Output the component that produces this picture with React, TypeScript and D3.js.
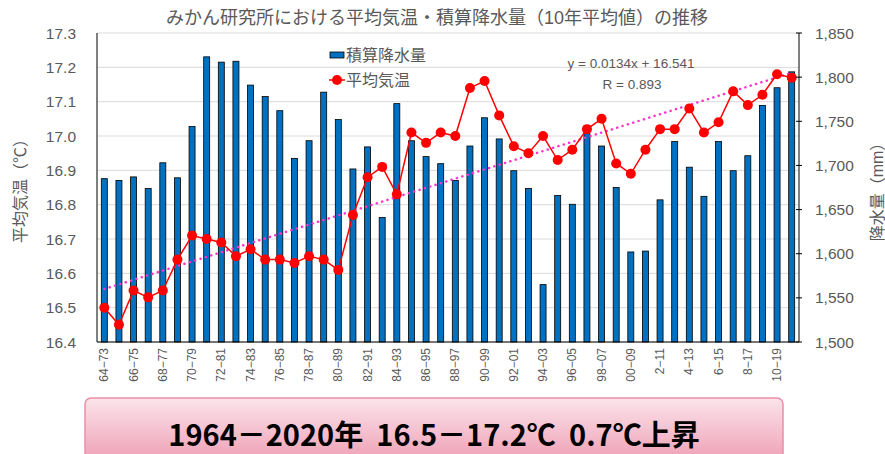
import React from 'react';
import * as d3 from 'd3';

// 10-year windows (start-end, last two digits)
const categories = [
  '64-73', '65-74', '66-75', '67-76', '68-77', '69-78', '70-79', '71-80', '72-81', '73-82',
  '74-83', '75-84', '76-85', '77-86', '78-87', '79-88', '80-89', '81-90', '82-91', '83-92',
  '84-93', '85-94', '86-95', '87-96', '88-97', '89-98', '90-99', '91-00', '92-01', '93-02',
  '94-03', '95-04', '96-05', '97-06', '98-07', '99-08', '00-09', '1-10', '2-11', '3-12',
  '4-13', '5-14', '6-15', '7-16', '8-17', '9-18', '10-19', '11-20'
];

// 積算降水量 (mm)
const precipitation = [
  1685, 1683, 1687, 1674, 1703, 1686, 1744, 1823, 1817, 1818,
  1791, 1778, 1762, 1708, 1728, 1783, 1752, 1696, 1721, 1641,
  1770, 1728, 1710, 1702, 1683, 1722, 1754, 1730, 1694, 1674,
  1565, 1666, 1656, 1736, 1722, 1675, 1602, 1603, 1661, 1727,
  1698, 1665, 1727, 1694, 1711, 1768, 1788, 1806
];

// 平均気温 (℃)
const temperature = [
  16.50, 16.45, 16.55, 16.53, 16.55, 16.64, 16.71, 16.70, 16.69, 16.65,
  16.67, 16.64, 16.64, 16.63, 16.65, 16.64, 16.61, 16.77, 16.88, 16.91,
  16.83, 17.01, 16.98, 17.01, 17.00, 17.14, 17.16, 17.06, 16.97, 16.95,
  17.00, 16.93, 16.96, 17.02, 17.05, 16.92, 16.89, 16.96, 17.02, 17.02,
  17.08, 17.01, 17.04, 17.13, 17.09, 17.12, 17.18, 17.17
];

const tempTicks = [16.4, 16.5, 16.6, 16.7, 16.8, 16.9, 17.0, 17.1, 17.2, 17.3];
const precipTicks = [1500, 1550, 1600, 1650, 1700, 1750, 1800, 1850];

// linear trend shown on the chart
const trendSlope = 0.0134;
const trendIntercept = 16.541;

const FONT = "'Liberation Sans', 'Noto Sans CJK JP', sans-serif";
const GRAY = '#595959';

const App = () => {
  const width = 885;
  const height = 454;
  const plot = { left: 97, right: 799, top: 33, bottom: 342 };

  const x = d3.scaleBand<string>().domain(categories).range([plot.left, plot.right]);
  const yT = d3.scaleLinear().domain([16.4, 17.3]).range([plot.bottom, plot.top]);
  const yP = d3.scaleLinear().domain([1500, 1850]).range([plot.bottom, plot.top]);
  const cx = (c: string) => (x(c) as number) + x.bandwidth() / 2;
  const barW = 6;

  const line = d3.line<number>()
    .x((d, i) => cx(categories[i]))
    .y(d => yT(d));

  const first = categories[0];
  const last = categories[categories.length - 1];
  const trendStart = trendSlope * 1 + trendIntercept;
  const trendEnd = trendSlope * categories.length + trendIntercept;

  return (
    <div style={{ position: 'fixed', left: 0, top: 0 }}>
      <svg width={width} height={height} style={{ display: 'block', background: '#fff' }}>
        <defs>
          <linearGradient id="boxFill" x1="0" y1="0" x2="0" y2="1">
            <stop offset="0%" stopColor="#FBE4EB" />
            <stop offset="100%" stopColor="#EE98B0" />
          </linearGradient>
        </defs>

        {/* title */}
        <text x={437} y={24} textAnchor="middle" fontFamily={FONT} fontSize={18} fill={GRAY}>
          みかん研究所における平均気温・積算降水量（10年平均値）の推移
        </text>

        {/* gridlines */}
        {tempTicks.map(t => (
          <line key={'g' + t} x1={plot.left} x2={plot.right} y1={yT(t)} y2={yT(t)} stroke="#D9D9D9" strokeWidth={1} />
        ))}

        {/* bars */}
        {precipitation.map((p, i) => (
          <rect
            key={'b' + i}
            x={cx(categories[i]) - barW / 2}
            y={yP(p)}
            width={barW}
            height={plot.bottom - yP(p)}
            fill="#0070C0"
            stroke="#000"
            strokeWidth={0.8}
          />
        ))}

        {/* trend line */}
        <line
          x1={cx(first)} y1={yT(trendStart)} x2={cx(last)} y2={yT(trendEnd)}
          stroke="#FF33CC" strokeWidth={2.5} strokeDasharray="0.1 5.5" strokeLinecap="round"
        />

        {/* temperature line */}
        <path d={line(temperature) || ''} fill="none" stroke="#FF0000" strokeWidth={1.5} />
        {temperature.map((t, i) => (
          <circle key={'c' + i} cx={cx(categories[i])} cy={yT(t)} r={5} fill="#FF0000" />
        ))}

        {/* axes */}
        <line x1={plot.left} x2={plot.left} y1={plot.top} y2={plot.bottom} stroke="#000" strokeWidth={1} />
        <line x1={plot.right} x2={plot.right} y1={plot.top} y2={plot.bottom} stroke="#000" strokeWidth={1} />
        <line x1={plot.left} x2={plot.right} y1={plot.bottom} y2={plot.bottom} stroke="#000" strokeWidth={1} />

        {/* left tick labels */}
        {tempTicks.map(t => (
          <text key={'lt' + t} x={plot.left - 21} y={yT(t) + 5.5} textAnchor="end" fontFamily={FONT} fontSize={15.5} fill={GRAY}>
            {d3.format('.1f')(t)}
          </text>
        ))}

        {/* right ticks and labels */}
        {precipTicks.map(p => (
          <g key={'rt' + p}>
            <line x1={plot.right - 3} x2={plot.right + 3} y1={yP(p)} y2={yP(p)} stroke="#000" strokeWidth={1} />
            <text x={plot.right + 16} y={yP(p) + 5.5} textAnchor="start" fontFamily={FONT} fontSize={15.5} fill={GRAY}>
              {d3.format(',')(p)}
            </text>
          </g>
        ))}

        {/* x labels, every other category */}
        {categories.map((c, i) => i % 2 === 0 ? (
          <text
            key={'x' + c}
            transform={`translate(${cx(c) + 4},${plot.bottom + 6}) rotate(-90)`}
            textAnchor="end"
            fontFamily={FONT}
            fontSize={12}
            fill={GRAY}
          >
            {c.replace('-', '−')}
          </text>
        ) : null)}

        {/* axis titles */}
        <text transform="translate(26,187) rotate(-90)" textAnchor="middle" fontFamily={FONT} fontSize={16} fill={GRAY}>
          平均気温（℃）
        </text>
        <text transform="translate(883,188) rotate(-90)" textAnchor="middle" fontFamily={FONT} fontSize={16} fill={GRAY}>
          降水量（mm）
        </text>

        {/* legend */}
        <rect x={330} y={52} width={14} height={6} fill="#0070C0" stroke="#000" strokeWidth={0.8} />
        <text x={346} y={61} fontFamily={FONT} fontSize={16} fill={GRAY}>積算降水量</text>
        <line x1={329} x2={345} y1={80} y2={80} stroke="#FF0000" strokeWidth={1.5} />
        <circle cx={337} cy={80} r={5} fill="#FF0000" />
        <text x={346} y={86} fontFamily={FONT} fontSize={16} fill={GRAY}>平均気温</text>

        {/* trend equation */}
        <text x={631} y={68} textAnchor="middle" fontFamily={FONT} fontSize={13.5} fill={GRAY}>
          y = 0.0134x + 16.541
        </text>
        <text x={632} y={89} textAnchor="middle" fontFamily={FONT} fontSize={13.5} fill={GRAY}>
          R = 0.893
        </text>

        {/* summary box */}
        <rect x={86} y={400} width={697} height={70} rx={6} fill="#000" opacity={0.12} />
        <rect x={85} y={398} width={698} height={70} rx={6} fill="url(#boxFill)" stroke="#EC8DA8" strokeWidth={1.5} />
        <text
          x={434} y={446} textAnchor="middle"
          fontFamily="'Noto Sans CJK JP', sans-serif" fontWeight="bold" fontSize={29} fill="#000"
          style={{ whiteSpace: 'pre' }}
        >
          {'1964－2020年  16.5－17.2℃  0.7℃上昇'}
        </text>
      </svg>
    </div>
  );
};

export default App;
